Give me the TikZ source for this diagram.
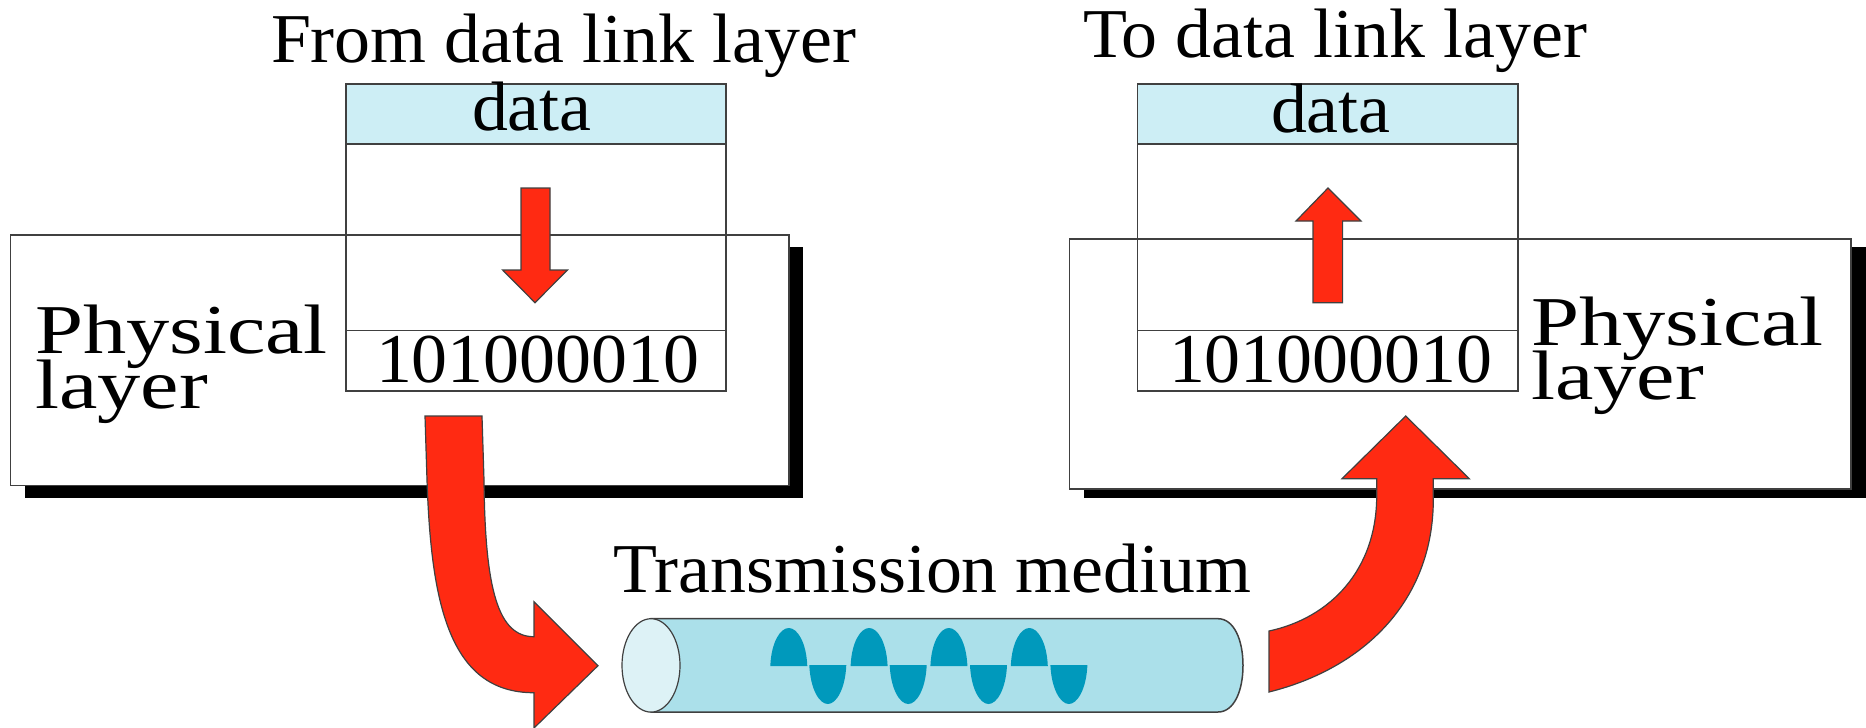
\documentclass[tikz,border=0pt]{standalone}
\usepackage{fontspec}
\setmainfont{Liberation Serif}
\definecolor{redarrow}{HTML}{FF2A12}
\definecolor{datafill}{HTML}{CDEEF5}
\definecolor{tubefill}{HTML}{ABE0EA}
\definecolor{tubeend}{HTML}{DDF2F6}
\definecolor{wavefill}{HTML}{0099BC}
\definecolor{edgegrey}{HTML}{404040}
\tikzset{
  lbl/.style={inner sep=0pt,outer sep=0pt,anchor=base west,text=black,font=\fontsize{70}{70}\selectfont},
  shadowbox/.style={fill=black,draw=none},
  panel/.style={fill=white,draw=edgegrey,line width=1.5pt},
  cell/.style={draw=edgegrey,line width=1.5pt},
  datacell/.style={cell,fill=datafill},
  blockarrow/.style={fill=redarrow,draw=edgegrey,line width=1.2pt,line join=miter},
  tube/.style={fill=tubefill,draw=edgegrey,line width=1.5pt},
  tubecap/.style={fill=tubeend,draw=edgegrey,line width=1.2pt},
  lobe/.style={fill=wavefill,draw=none}
}
\newcommand{\wide}[1]{\scalebox{1.235}[1]{#1}}
\newcommand{\slight}[1]{\scalebox{1.027}[1]{#1}}
\begin{document}
\begin{tikzpicture}[x=1pt,y=-1pt]
\useasboundingbox (0,0) rectangle (1866,728);
% left panel
\path[shadowbox] (24.6,246.7) rectangle (803,498);
\path[panel] (10.5,235) rectangle (789,485.6);
\path[datacell] (346,84) rectangle (726,144);
\path[cell] (346,144) rectangle (726,330.7);
\path[cell] (346,330.7) rectangle (726,391);
\path[blockarrow] (521,188) -- (550,188) -- (550,270) -- (567.5,270) -- (535,302.7) -- (502.6,270) -- (521,270) -- cycle;
% right panel
\path[shadowbox] (1084,246.7) rectangle (1866,498);
\path[panel] (1069.3,239) rectangle (1851,489);
\path[datacell] (1137.3,84) rectangle (1518,144);
\path[cell] (1137.3,144) rectangle (1518,330.7);
\path[cell] (1137.3,330.7) rectangle (1518,391);
\path[blockarrow] (1328,188) -- (1361,221) -- (1342.6,221) -- (1342.6,302.7) -- (1313,302.7) -- (1313,221) -- (1296,221) -- cycle;
% big arrows
\path[blockarrow] (425,416) -- (482,416) -- (484,480)
  .. controls (485,590) and (498,636.7) .. (534,636.7)
  -- (534,601.7) -- (598,665.7) -- (534,728) -- (534,692.7)
  .. controls (448,693) and (431,600) .. (427,480) -- cycle;
\path[blockarrow] (1405.7,416) -- (1469.3,478.7) -- (1433.3,478.7) -- (1433.3,500)
  .. controls (1433,600) and (1365,668) .. (1269,692)
  -- (1269,631)
  .. controls (1330,618) and (1377,570) .. (1376.7,495)
  -- (1376.7,478.7) -- (1342,478.7) -- cycle;
% tube
\path[tube] (651,618.7) -- (1218,618.7) .. controls (1234,618.7) and (1243,640) .. (1243,665.4)
  .. controls (1243,691) and (1234,712) .. (1218,712) -- (651,712) -- cycle;
\path[tubecap] (651,665.4) ellipse [x radius=29,y radius=46.7];
\foreach \p in {770.3,850.6,930.4,1010.8}
  \path[lobe] (\p,666) .. controls (\p+1,642) and (\p+10,628) .. (\p+18.5,628)
     .. controls (\p+27,628) and (\p+36,642) .. (\p+37,666) -- cycle;
\foreach \p in {809.3,889.7,970,1050.4}
  \path[lobe] (\p,665) .. controls (\p+1,689) and (\p+10,704) .. (\p+18.5,704)
     .. controls (\p+27,704) and (\p+36,689) .. (\p+37,665) -- cycle;
% texts
\node[lbl] (fromdl) at (271,62.3) {\slight{From data link layer}};
\node[lbl] (todl) at (1083,57.3) {\slight{To data link layer}};
\node[lbl] (dataL) at (472,130) {\slight{data}};
\node[lbl] (dataR) at (1271,132.7) {\slight{data}};
\node[lbl] (bitsL) at (376,382.7) {\slight{101000010}};
\node[lbl] (bitsR) at (1169,382.7) {\slight{101000010}};
\node[lbl] (physL) at (35,353) {\wide{Physical}};
\node[lbl] (layL) at (35,408) {\wide{layer}};
\node[lbl] (physR) at (1531,345) {\wide{Physical}};
\node[lbl] (layR) at (1531,399) {\wide{layer}};
\node[lbl] (medium) at (613,592.7) {\slight{Transmission medium}};
\end{tikzpicture}
\end{document}
